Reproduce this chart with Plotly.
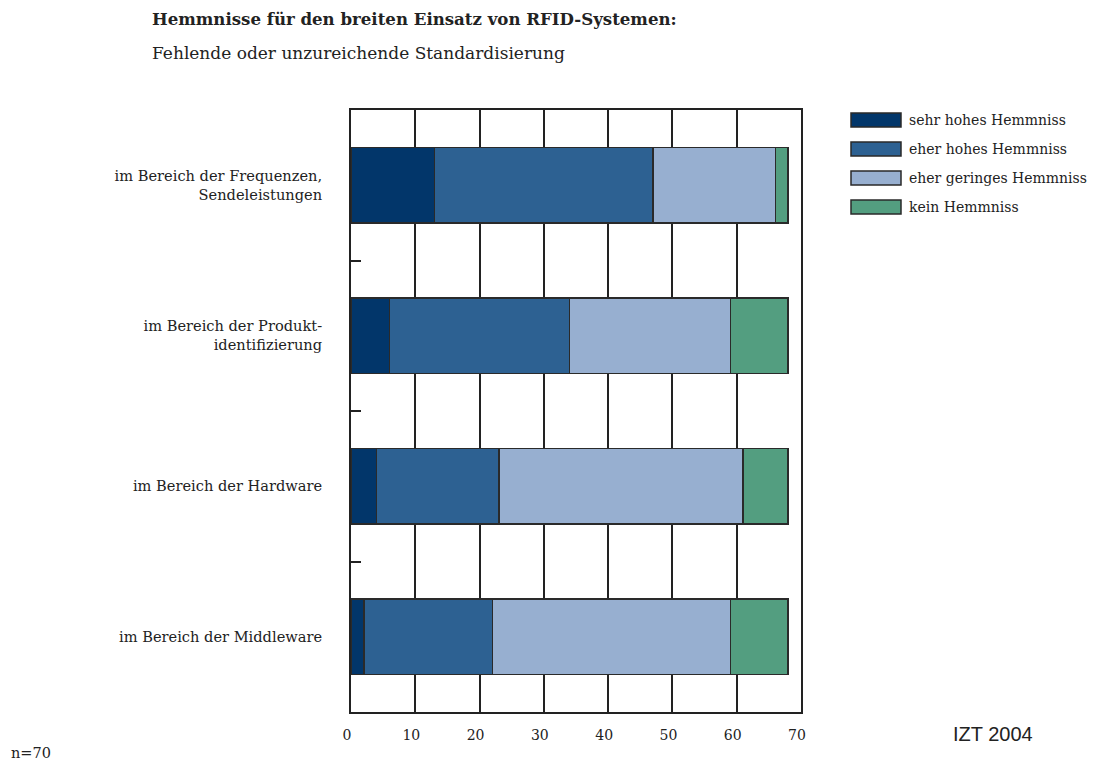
import plotly.graph_objects as go

categories = [
    "im Bereich der Frequenzen,<br>Sendeleistungen",
    "im Bereich der Produkt-<br>identifizierung",
    "im Bereich der Hardware",
    "im Bereich der Middleware",
]
series_names = ["sehr hohes Hemmniss", "eher hohes Hemmniss", "eher geringes Hemmniss", "kein Hemmniss"]
sehr_hoch = [13, 6, 4, 2]
eher_hoch = [34, 28, 19, 20]
eher_gering = [19, 25, 38, 37]
kein = [2, 9, 7, 9]
series_values = [sehr_hoch, eher_hoch, eher_gering, kein]
colors = ["#02366A", "#2D6192", "#97AFD0", "#539E80"]
x_ticks = [0, 10, 20, 30, 40, 50, 60, 70]

SERIF = "DejaVu Serif"

fig = go.Figure()
for name, vals, col in zip(series_names, series_values, colors):
    fig.add_trace(go.Bar(
        y=categories, x=vals, name=name, orientation="h",
        marker=dict(color=col, line=dict(color="#2a2a2a", width=1.5)),
        showlegend=False,
    ))

# page body has an 8px margin; work in window pixels and subtract it
OFF = 8
FW, FH = 1100 - OFF, 761 - OFF
L, R, T, B = 351 - OFF, 801 - OFF, 110 - OFF, 712 - OFF
W, H = R - L, B - T
def px(x):
    return (x - OFF - L) / W
def py(y):
    return (B - (y - OFF)) / H

fig.update_layout(
    width=FW, height=FH,
    margin=dict(l=L, r=FW - R, t=T, b=FH - B, autoexpand=False),
    paper_bgcolor="white", plot_bgcolor="white",
    barmode="stack", bargap=0.5,
    font=dict(family=SERIF, size=12, color="#222"),
    xaxis=dict(
        range=[0, 70], tickvals=x_ticks, ticks="",
        showgrid=True, gridcolor="#222", gridwidth=2,
        showline=True, linecolor="#222", linewidth=2, mirror=True,
        zeroline=False, tickfont=dict(family=SERIF, size=14, color="#222"),
        ticklabelstandoff=9, ticklabelshift=-4, fixedrange=True,
    ),
    yaxis=dict(
        type="category", autorange="reversed",
        ticks="inside", tickson="boundaries", ticklen=10, tickwidth=2, tickcolor="#222",
        showgrid=False, showline=True, linecolor="#222", linewidth=2, mirror=True,
        tickfont=dict(family=SERIF, size=14.6, color="#222"),
        ticklabelstandoff=24,
    ),
)

annotations = [
    dict(text="<b>Hemmnisse für den breiten Einsatz von RFID-Systemen:</b>", x=px(150), y=py(19),
         font=dict(family=SERIF, size=16.6, color="#222")),
    dict(text="Fehlende oder unzureichende Standardisierung", x=px(150), y=py(53),
         font=dict(family=SERIF, size=17, color="#222")),
    dict(text="IZT 2004", x=px(951), y=py(734),
         font=dict(family="Liberation Sans", size=20, color="#222")),
    dict(text="n=70", x=px(9), y=py(753),
         font=dict(family=SERIF, size=14.5, color="#222")),
]
shapes = []
leg_y = [120, 149, 178, 207]
for name, col, yc in zip(series_names, colors, leg_y):
    shapes.append(dict(type="rect", xref="paper", yref="paper",
                       x0=px(851), x1=px(901), y0=py(yc + 7), y1=py(yc - 7),
                       fillcolor=col, line=dict(color="#2a2a2a", width=1.5)))
    annotations.append(dict(text=name, x=px(907), y=py(yc),
                            font=dict(family=SERIF, size=14, color="#222")))
for a in annotations:
    a.update(xref="paper", yref="paper", xanchor="left", yanchor="middle", showarrow=False)

fig.update_layout(annotations=annotations, shapes=shapes)
fig.write_html("out.html")
